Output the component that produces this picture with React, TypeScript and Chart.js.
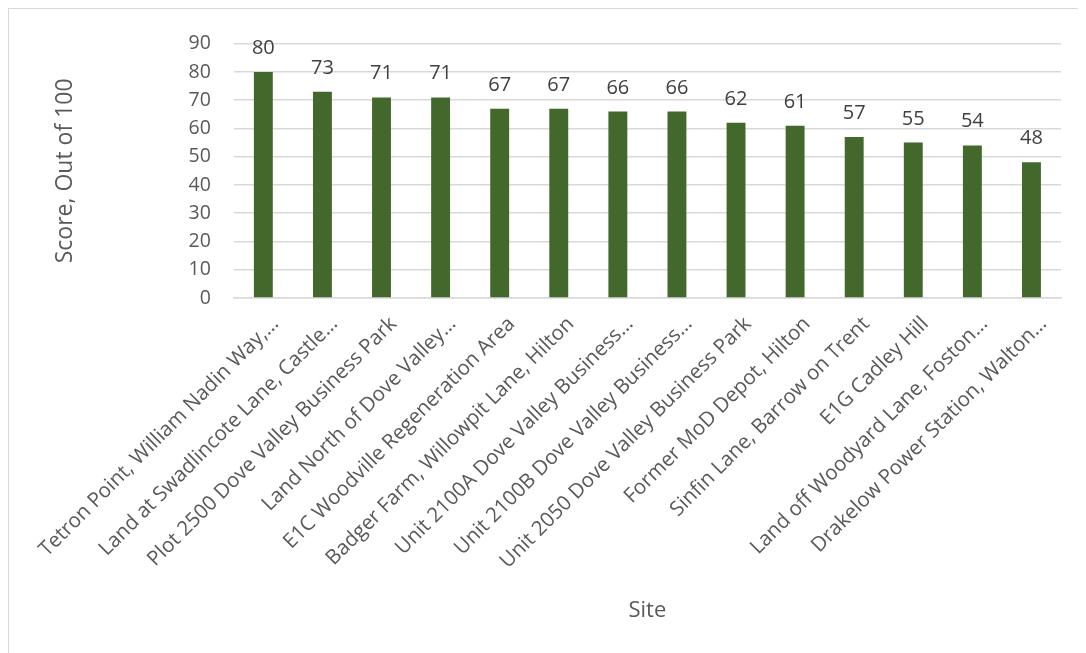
import React, { useEffect, useRef } from "react";
import { Chart, registerables } from "chart.js";

Chart.register(...registerables);

const siteLabels: string[] = [
  "Tetron Point, William Nadin Way,…",
  "Land at Swadlincote Lane, Castle…",
  "Plot 2500 Dove Valley Business Park",
  "Land North of Dove Valley…",
  "E1C Woodville Regeneration Area",
  "Badger Farm, Willowpit Lane, Hilton",
  "Unit 2100A Dove Valley Business…",
  "Unit 2100B Dove Valley Business…",
  "Unit 2050 Dove Valley Business Park",
  "Former MoD Depot, Hilton",
  "Sinfin Lane, Barrow on Trent",
  "E1G Cadley Hill",
  "Land off Woodyard Lane, Foston…",
  "Drakelow Power Station, Walton…",
];

const scores: number[] = [80, 73, 71, 71, 67, 67, 66, 66, 62, 61, 57, 55, 54, 48];

const yMin = 0;
const yMax = 90;
const yStep = 10;

const FONT = "'Open Sans', sans-serif";

const valueLabels = {
  id: "valueLabels",
  afterDatasetsDraw(chart: any) {
    const ctx = chart.ctx;
    const meta = chart.getDatasetMeta(0);
    ctx.save();
    ctx.fillStyle = "#404040";
    ctx.font = `20px ${FONT}`;
    ctx.textAlign = "center";
    ctx.textBaseline = "alphabetic";
    meta.data.forEach((bar: any, i: number) => {
      const v = chart.data.datasets[0].data[i];
      ctx.fillText(String(v), bar.x, bar.y - 18);
    });
    ctx.restore();
  },
};

export default function App() {
  const canvasRef = useRef<HTMLCanvasElement | null>(null);

  useEffect(() => {
    document.body.style.overflow = "hidden";
    if (!canvasRef.current) return;
    const chart = new Chart(canvasRef.current, {
      type: "bar",
      data: {
        labels: siteLabels,
        datasets: [
          {
            label: "Score",
            data: scores,
            backgroundColor: "#43682B",
            borderWidth: 0,
            barPercentage: 0.32,
            categoryPercentage: 1,
          },
        ],
      },
      options: {
        animation: false,
        responsive: false,
        maintainAspectRatio: false,
        layout: { padding: { left: 36, right: 36, top: 29, bottom: 0 } },
        plugins: {
          legend: { display: false },
          tooltip: { enabled: false },
        },
        scales: {
          x: {
            grid: { display: false, drawTicks: false },
            border: { display: true, color: "#D9D9D9", width: 1.5 },
            ticks: {
              autoSkip: false,
              maxRotation: 45,
              minRotation: 45,
              padding: 14,
              labelOffset: 12,
              color: "#595959",
              font: { family: FONT, size: 20.5 },
            },
            title: {
              display: true,
              text: "Site",
              color: "#595959",
              font: { family: FONT, size: 22 },
              padding: { top: 4, bottom: 33 },
            },
            afterFit(scale: any) {
              scale.height = 359;
            },
          },
          y: {
            min: yMin,
            max: yMax,
            grid: { color: "#D9D9D9", lineWidth: 1.5, drawTicks: false },
            border: { display: false },
            ticks: {
              stepSize: yStep,
              padding: 23,
              color: "#595959",
              font: { family: FONT, size: 19.5 },
            },
            title: {
              display: true,
              text: "Score, Out of 100",
              color: "#595959",
              font: { family: FONT, size: 23 },
              padding: { top: 4, bottom: 4 },
            },
            afterFit(scale: any) {
              scale.width = 186;
            },
          },
        },
      },
      plugins: [valueLabels],
    });
    return () => chart.destroy();
  }, []);

  return (
    <div
      style={{
        width: 1090,
        height: 650,
        boxSizing: "border-box",
        border: "1px solid #D9D9D9",
        background: "#FFFFFF",
      }}
    >
      <canvas ref={canvasRef} width={1088} height={648} style={{ display: "block" }} />
    </div>
  );
}
